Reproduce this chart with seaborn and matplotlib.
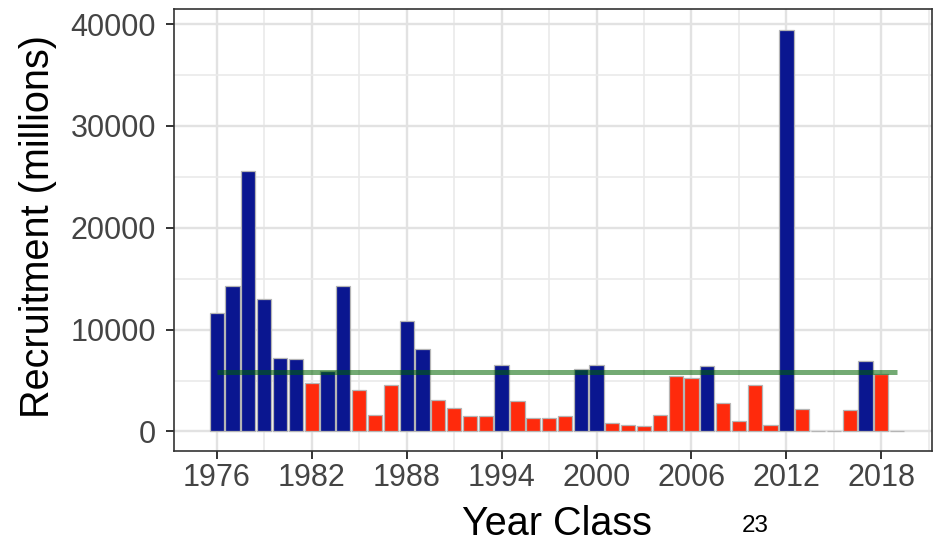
import numpy as np
import pandas as pd
import matplotlib
matplotlib.use("Agg")
import matplotlib.pyplot as plt
import seaborn as sns
from matplotlib.ticker import FixedLocator

# ---- data ----
years = list(range(1976, 2020))
recruitment = [11600, 14300, 25600, 13000, 7200, 7150, 4800, 5900, 14300, 4050,
               1580, 4600, 10800, 8100, 3080, 2300, 1550, 1550, 6550, 3000,
               1320, 1300, 1550, 6100, 6550, 800, 600, 550, 1620, 5400,
               5250, 6400, 2780, 980, 4580, 650, 39400, 2200, 0, 0,
               2080, 6900, 5660, 0]
mean_line = 5850
xtick_years = [1976, 1982, 1988, 1994, 2000, 2006, 2012, 2018]
xminor_years = [1979, 1985, 1991, 1997, 2003, 2009, 2015, 2021]
ytick_vals = [0, 10000, 20000, 30000, 40000]
yminor_vals = [5000, 15000, 25000, 35000]
bar_colors = {"above": "#0A1690", "below": "#FF2A0C"}

df = pd.DataFrame({"year": years, "recruitment": recruitment})
df["status"] = np.where(df["recruitment"] > mean_line, "above", "below")
line_df = pd.DataFrame({"year": [years[0], years[-1]], "level": [mean_line, mean_line]})

sns.set_theme(style="white")
plt.rcParams["font.family"] = ["Liberation Sans", "DejaVu Sans"]

fig = plt.figure(figsize=(9.39, 5.43), dpi=100)
ax = fig.add_axes([174 / 939, 1 - 451 / 543, (932 - 174) / 939, (451 - 8.5) / 543])

sns.barplot(data=df, x="year", y="recruitment", hue="status", palette=bar_colors,
            native_scale=True, width=0.9, dodge=False, saturation=1,
            edgecolor="#B5B5B5", linewidth=0.9, legend=False, errorbar=None, ax=ax)
sns.lineplot(data=line_df, x="year", y="level", color="darkgreen", alpha=0.55,
             linewidth=3.6, solid_capstyle="butt", ax=ax)

ax.set_xlim(1973.3, 2021.2)
ax.set_ylim(-1920, 41540)
ax.xaxis.set_major_locator(FixedLocator(xtick_years))
ax.xaxis.set_minor_locator(FixedLocator(xminor_years))
ax.yaxis.set_major_locator(FixedLocator(ytick_vals))
ax.yaxis.set_minor_locator(FixedLocator(yminor_vals))
ax.set_xticklabels([str(y) for y in xtick_years])
ax.set_yticklabels([str(v) for v in ytick_vals])

ax.set_axisbelow(True)
ax.grid(which="major", color="#E2E2E2", linewidth=1.7)
ax.grid(which="minor", color="#EAEAEA", linewidth=1.2)
ax.tick_params(which="major", axis="both", labelsize=22, labelcolor="#444444",
               color="#333333", length=6, width=1.4, direction="out")
ax.tick_params(axis="x", pad=3, bottom=True)
ax.tick_params(axis="y", pad=7, left=True)
ax.tick_params(which="minor", length=0)
for s in ax.spines.values():
    s.set_visible(True)
    s.set_color("#333333")
    s.set_linewidth(1.2)

ax.set_xlabel("")
ax.set_ylabel("")
fig.text(557 / 939, 1 - 535 / 543, "Year Class", fontsize=28.5, ha="center",
         va="baseline", color="black")
fig.text(38 / 939, 1 - 226.5 / 543, "Recruitment (millions)", fontsize=28.5,
         rotation=90, ha="center", va="center", color="black")
fig.text(755 / 939, 1 - 531.7 / 543, "23", fontsize=17.5, ha="center",
         va="baseline", color="black")

fig.savefig("out.png", dpi=100)
